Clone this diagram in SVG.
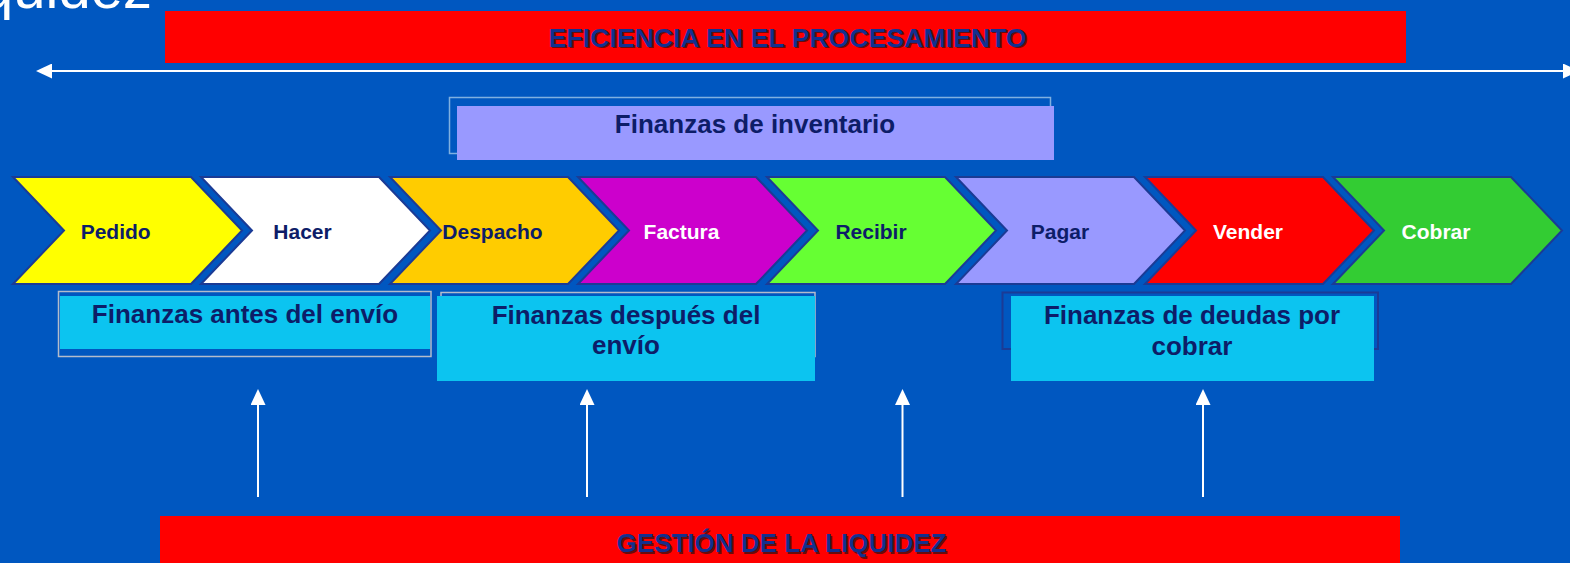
<svg xmlns="http://www.w3.org/2000/svg" width="1570" height="563" viewBox="0 0 1570 563">
<style>
text{font-family:"Liberation Sans",Arial,sans-serif;font-weight:bold}
.big{font-size:26px;fill:#0d1d68;text-anchor:middle}
.ban{font-size:26px;fill:#12308f;text-anchor:middle}
.sh{font-size:26px;fill:#2a1010;text-anchor:middle;opacity:.7}
.lab{font-size:21px;text-anchor:middle}
.dk{fill:#0d1d68}
.wt{fill:#ffffff}
.chev{stroke:#1b3b95;stroke-width:2;stroke-linejoin:miter}
.cyan{fill:#0cc4f0}
.conn{stroke:#ffffff;stroke-width:2;fill:none}
</style>
<defs>
<marker id="ah" viewBox="0 0 16 15" refX="0" refY="7.5" markerWidth="16" markerHeight="15" orient="auto-start-reverse" markerUnits="userSpaceOnUse">
<path d="M0,0 L16,7.5 L0,15 z" fill="#ffffff"/>
</marker>
<polygon id="chevshape" points="0,0 178,0 229,53.5 178,107 0,107 51,53.5"/>
</defs>
<rect x="0" y="0" width="1570" height="563" fill="#0057c0"/>

<text x="-19" y="8" style="font-weight:normal;font-size:58px;fill:#ffffff">quidez</text>

<g id="banner-top">
<rect x="165" y="11" width="1241" height="52" fill="#ff0000"/>
<text class="sh" x="789" y="48" textLength="478" lengthAdjust="spacingAndGlyphs">EFICIENCIA EN EL PROCESAMIENTO</text>
<text class="ban" x="787.5" y="46.5" textLength="478" lengthAdjust="spacingAndGlyphs">EFICIENCIA EN EL PROCESAMIENTO</text>
</g>

<g id="inventario">
<rect x="449.5" y="97.5" width="601" height="56" fill="none" stroke="#7fb0e0" stroke-width="1.5"/>
<rect x="457" y="106" width="597" height="54" fill="#9999ff"/>
<text class="big" x="755" y="133">Finanzas de inventario</text>
</g>

<g id="pedido" transform="translate(13,177)"><use href="#chevshape" class="chev" fill="#ffff00"/><text class="lab dk" x="102.7" y="62">Pedido</text></g>
<g id="hacer" transform="translate(201,177)"><use href="#chevshape" class="chev" fill="#ffffff"/><text class="lab dk" x="101.5" y="62">Hacer</text></g>
<g id="despacho" transform="translate(390,177)"><use href="#chevshape" class="chev" fill="#ffcc00"/><text class="lab dk" x="102.5" y="62">Despacho</text></g>
<g id="factura" transform="translate(578,177)"><use href="#chevshape" class="chev" fill="#cc00cc"/><text class="lab wt" x="103.5" y="62">Factura</text></g>
<g id="recibir" transform="translate(767,177)"><use href="#chevshape" class="chev" fill="#66ff33"/><text class="lab dk" x="104" y="62">Recibir</text></g>
<g id="pagar" transform="translate(956,177)"><use href="#chevshape" class="chev" fill="#9999ff"/><text class="lab dk" x="104" y="62">Pagar</text></g>
<g id="vender" transform="translate(1145,177)"><use href="#chevshape" class="chev" fill="#ff0000"/><text class="lab wt" x="103" y="62">Vender</text></g>
<g id="cobrar" transform="translate(1333,177)"><use href="#chevshape" class="chev" fill="#33cc33"/><text class="lab wt" x="103" y="62">Cobrar</text></g>

<g id="antes-envio">
<rect x="58.5" y="291.5" width="372.5" height="65" fill="none" stroke="#b4bccb" stroke-width="1.5"/>
<rect x="60" y="296" width="370" height="53" class="cyan"/>
<text class="big" x="245" y="323">Finanzas antes del envío</text>
</g>

<g id="despues-envio">
<rect x="441" y="292.5" width="374" height="64" fill="none" stroke="#b4bccb" stroke-width="1.5"/>
<rect x="437" y="296" width="378" height="85" class="cyan"/>
<text class="big" x="626" y="324">Finanzas después del</text>
<text class="big" x="626" y="354">envío</text>
</g>

<g id="deudas-cobrar">
<rect x="1002.5" y="292.5" width="375.5" height="56.5" fill="none" stroke="#1b3b95" stroke-width="2"/>
<rect x="1011" y="296" width="363" height="85" class="cyan"/>
<text class="big" x="1192" y="324">Finanzas de deudas por</text>
<text class="big" x="1192" y="355">cobrar</text>
</g>

<g id="banner-bottom">
<rect x="160" y="516" width="1240" height="47" fill="#ff0000"/>
<text class="sh" x="783" y="553.5">GESTIÓN DE LA LIQUIDEZ</text>
<text class="ban" x="781.5" y="552">GESTIÓN DE LA LIQUIDEZ</text>
</g>

<g id="connectors">
<line class="conn" x1="52" y1="71" x2="1563" y2="71" stroke-width="2.5" marker-start="url(#ah)" marker-end="url(#ah)"/>
<line class="conn" x1="258" y1="497" x2="258" y2="405" marker-end="url(#ah)"/>
<line class="conn" x1="587" y1="497" x2="587" y2="405" marker-end="url(#ah)"/>
<line class="conn" x1="902.5" y1="497" x2="902.5" y2="405" marker-end="url(#ah)"/>
<line class="conn" x1="1203" y1="497" x2="1203" y2="405" marker-end="url(#ah)"/>
</g>
</svg>
